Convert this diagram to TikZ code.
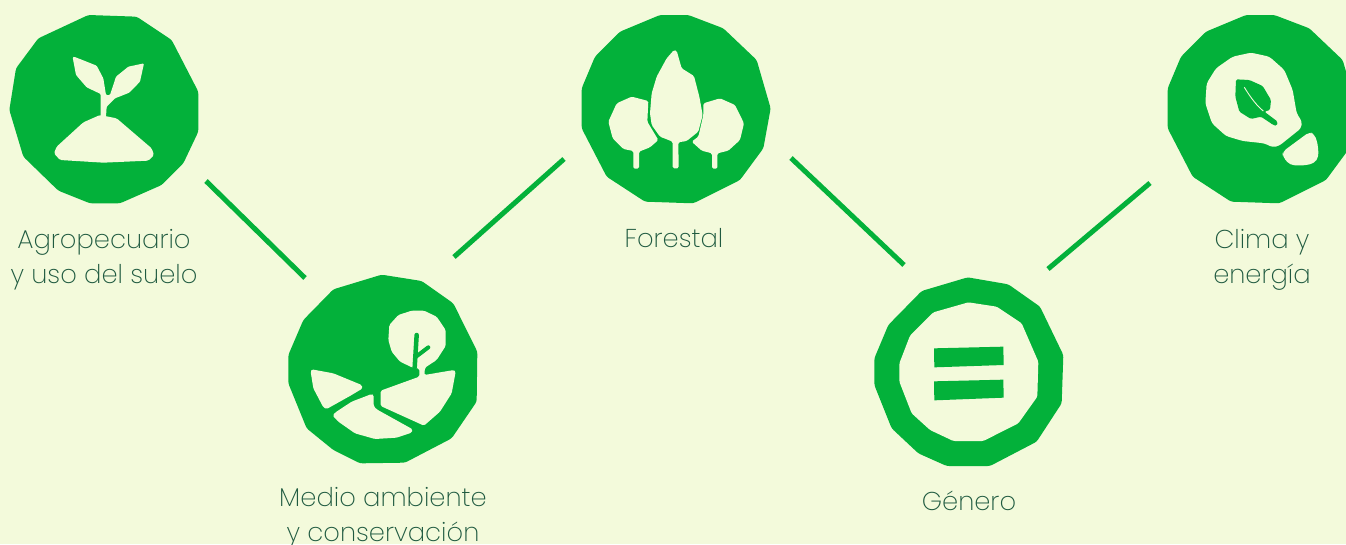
\documentclass[tikz,border=0pt]{standalone}
\usepackage{fontspec}
\setmainfont{Poppins ExtraLight}
\definecolor{bgc}{HTML}{F3FADB}
\definecolor{grn}{HTML}{03B13A}
\definecolor{txt}{HTML}{1F5A40}
\tikzset{
  blob/.style={fill=grn,draw=none,rounded corners=2.5pt},
  lite/.style={fill=bgc,draw=none,rounded corners=1.5pt},
  icon/.style={x=0.33333pt,y=-0.33333pt},
  link/.style={draw=grn,line width=5pt},
  lbl/.style={text=txt,align=center,anchor=base,inner sep=0pt,font=\fontsize{25.8}{35}\selectfont}
}
\begin{document}
\begin{tikzpicture}[x=1pt,y=-1pt]
\useasboundingbox (0,0) rectangle (1346,544);
\clip (0,0) rectangle (1346,544);
\fill[bgc] (0,0) rectangle (1346,544);
% connector ends
\coordinate (a1) at (206,181); \coordinate (a2) at (305,278);
\coordinate (b1) at (564,159); \coordinate (b2) at (454,257);
\coordinate (c1) at (791,158); \coordinate (c2) at (904,265);
\coordinate (d1) at (1150,183); \coordinate (d2) at (1048,269);
\draw[link] (a1) -- (a2);
\draw[link] (b1) -- (b2);
\draw[link] (c1) -- (c2);
\draw[link] (d1) -- (d2);
% 1 Agropecuario
\begin{scope}[shift={(0,0)},icon]
\fill[blob] (265,45)--(410,50)--(515,120)--(595,275)--(595,395)--(550,490)--(485,555)--(360,610)--(270,610)--(175,572)--(70,470)--(28,330)--(48,205)--(115,115)--cycle;
\fill[lite] (300,345)--(350,355)--(455,445)--(462,465)--(445,482)--(310,488)--(180,480)--(162,460)--(170,440)--(250,367)--cycle;
\fill[lite,rounded corners=1pt] (222,170)--(290,197)--(310,235)--(318,285)--(330,285)--(348,230)--(385,200)--(432,190)--(420,245)--(388,278)--(345,295)--(320,320)--(318,350)--(302,350)--(302,282)--(260,262)--(228,225)--(218,172)--cycle;
\end{scope}
% 2 Medio ambiente
\begin{scope}[shift={(280,270)},icon]
\fill[blob] (305,14)--(425,33)--(520,100)--(592,245)--(590,395)--(515,505)--(375,578)--(240,580)--(160,540)--(80,475)--(25,340)--(25,255)--(70,150)--(160,58)--cycle;
\fill[lite] (398,293)--(360,275)--(335,245)--(325,210)--(328,165)--(355,135)--(395,122)--(432,122)--(470,140)--(497,180)--(497,228)--(470,270)--(435,293)--(433,315)--(522,300)--(527,305)--(515,370)--(480,425)--(432,467)--(302,408)--(302,362)--(418,320)--(418,296)--cycle;
\draw[draw=grn,line width=4.5pt,line cap=round,line join=round] (410,195)--(404,293);
\draw[draw=grn,line width=4pt,line cap=round] (408,260)--(445,232);
\fill[lite] (95,298)--(160,310)--(245,345)--(248,355)--(215,375)--(140,417)--(130,412)--(100,355)--(92,305)--cycle;
\fill[lite] (275,372)--(281,375)--(281,408)--(290,418)--(398,478)--(395,488)--(350,503)--(285,507)--(225,490)--(175,455)--(158,437)--(165,428)--(215,395)--cycle;
\end{scope}
% 3 Forestal
\begin{scope}[shift={(570,0)},icon]
\fill[blob] (270,45)--(355,45)--(460,85)--(560,180)--(602,325)--(580,445)--(510,540)--(370,610)--(225,605)--(110,530)--(35,385)--(35,265)--(75,170)--(150,95)--cycle;
\fill[lite] (312,150)--(320,152)--(335,205)--(372,228)--(388,290)--(398,345)--(385,395)--(350,423)--(325,427)--(326,505)--(308,505)--(308,425)--(270,410)--(245,375)--(240,340)--(245,280)--(260,230)--(290,175)--cycle;
\fill[lite] (185,290)--(235,303)--(232,365)--(265,420)--(240,442)--(207,455)--(207,506)--(190,506)--(190,453)--(160,447)--(128,415)--(115,365)--(140,310)--cycle;
\fill[lite] (400,310)--(450,295)--(495,315)--(522,370)--(510,420)--(475,452)--(442,460)--(442,506)--(426,506)--(426,460)--(395,452)--(365,425)--(385,410)--(400,345)--cycle;
\end{scope}
% 4 Genero
\begin{scope}[shift={(865,265)},icon]
\fill[blob] (308,37)--(430,58)--(525,125)--(595,270)--(590,415)--(515,530)--(375,603)--(245,603)--(160,565)--(80,490)--(28,360)--(28,280)--(70,180)--(170,78)--cycle;
\fill[lite] (310,112)--(395,125)--(470,175)--(520,290)--(517,395)--(460,475)--(355,528)--(265,528)--(195,495)--(140,445)--(103,350)--(103,295)--(135,212)--(205,142)--cycle;
\fill[grn] (207,250)--(415,245)--(416,300)--(208,307)--cycle;
\fill[grn] (207,349)--(415,344)--(416,398)--(208,406)--cycle;
\end{scope}
% 5 Clima
\begin{scope}[shift={(1136,0)},icon]
\fill[blob] (330,45)--(415,45)--(520,85)--(620,180)--(662,325)--(640,445)--(570,540)--(430,610)--(285,605)--(170,530)--(95,385)--(95,265)--(135,170)--(210,95)--cycle;
\fill[lite,rounded corners=3pt] (345,158)--(400,170)--(445,210)--(470,270)--(482,340)--(498,365)--(495,385)--(430,437)--(410,442)--(385,430)--(320,423)--(270,408)--(228,370)--(208,310)--(212,250)--(240,205)--(290,170)--cycle;
\fill[blob,rounded corners=1.5pt] (300,238)--(340,240)--(380,258)--(405,300)--(402,330)--(385,335)--(425,365)--(422,378)--(412,375)--(375,350)--(345,357)--(310,335)--(298,290)--cycle;
\draw[draw=bgc,line width=0.9pt] (325,262) .. controls (345,295) and (365,320) .. (382,333);
\fill[lite,rounded corners=4pt] (520,396)--(535,402)--(545,430)--(548,470)--(535,490)--(500,497)--(462,495)--(440,470)--(440,455)--cycle;
\end{scope}
% labels
\node[lbl] (t1) at (104,283.5) {Agropecuario\\y uso del suelo};
\node[lbl] (t2) at (383,541) {Medio ambiente\\y conservación};
\node[lbl] (t3) at (674,247.5) {Forestal};
\node[lbl] (t4) at (969,510.5) {Género};
\node[lbl] (t5) at (1262,283.5) {Clima y\\energía};
\end{tikzpicture}
\end{document}
